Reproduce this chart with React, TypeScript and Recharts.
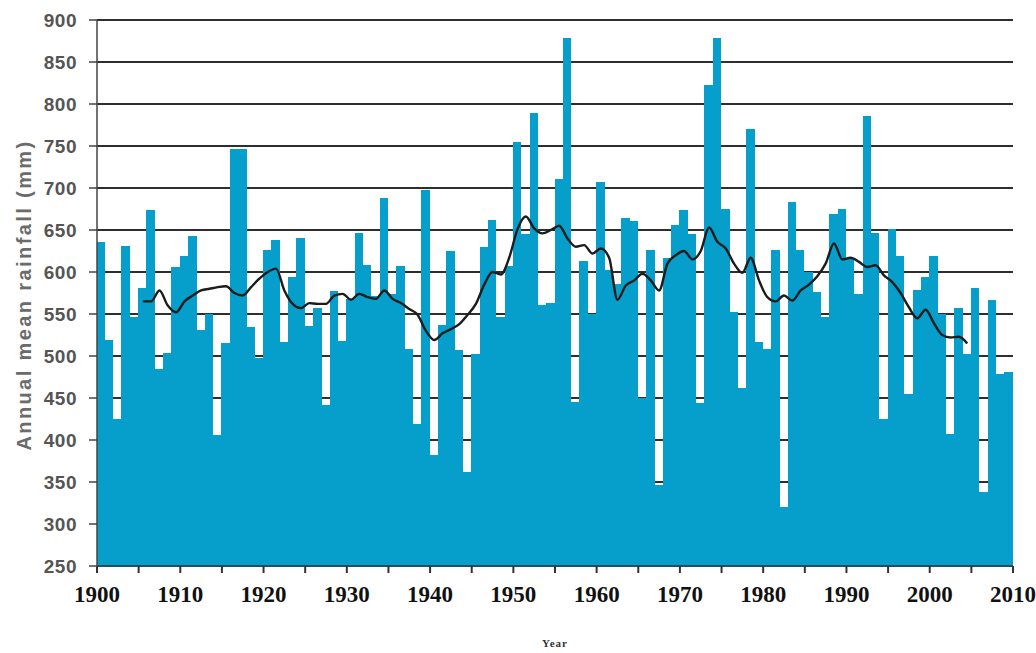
import React from "react";
import {
  Bar,
  CartesianGrid,
  ComposedChart,
  Label,
  Line,
  XAxis,
  YAxis,
} from "recharts";

// annual mean rainfall (mm), 1900..2009
const FIRST_YEAR = 1900;
const rainfall = [
  635, 518, 424, 630, 546, 580, 673, 484, 503, 605,
  618, 642, 530, 549, 405, 515, 746, 746, 534, 497,
  626, 637, 516, 594, 640, 535, 557, 441, 577, 517,
  567, 646, 608, 571, 687, 573, 606, 508, 419, 697,
  381, 536, 624, 506, 361, 502, 629, 661, 546, 607,
  754, 645, 789, 560, 562, 710, 878, 445, 612, 549,
  706, 602, 585, 664, 660, 450, 626, 346, 616, 655,
  673, 645, 443, 822, 878, 675, 552, 461, 770, 516,
  508, 626, 320, 683, 626, 599, 576, 546, 668, 675,
  615, 573, 785, 646, 424, 651, 618, 454, 578, 593,
  618, 549, 407, 556, 502, 580, 337, 566, 478, 480,
];

// smoothed trend, 1905..2004
const TREND_FIRST_YEAR = 1905;
const trend = [
  565, 565, 578, 560, 552, 565, 572, 578, 580, 582,
  583, 575, 572, 582, 592, 600, 604, 578, 562, 557,
  563, 562, 562, 572, 574, 567, 574, 570, 568, 578,
  568, 563, 556, 549, 530, 519, 527, 532, 538, 549,
  562, 585, 600, 597, 617, 651, 666, 652, 646, 650,
  655, 640, 630, 632, 622, 628, 617, 567, 584, 590,
  598, 590, 578, 610, 620, 625, 615, 625, 653, 636,
  628, 610, 599, 617, 590, 570, 565, 572, 566, 578,
  585, 595, 610, 634, 615, 617, 612, 606, 608, 596,
  588, 575, 558, 545, 555, 539, 525, 522, 523, 515,
];

const xTicks = [
  1900, 1905, 1910, 1915, 1920, 1925, 1930, 1935, 1940, 1945, 1950, 1955,
  1960, 1965, 1970, 1975, 1980, 1985, 1990, 1995, 2000, 2005, 2010,
];
const yTicks = [250, 300, 350, 400, 450, 500, 550, 600, 650, 700, 750, 800, 850, 900];

const data = rainfall.map((rain, i) => {
  const year = FIRST_YEAR + i;
  const t = trend[year - TREND_FIRST_YEAR];
  return { x: year + 0.5, year, rain, trend: t === undefined ? null : t };
});

const BAR_COLOR = "#069ecb";

const YTitle = () => (
  <text
    x={24}
    y={295}
    transform="rotate(-90 24 295)"
    textAnchor="middle"
    dominantBaseline="central"
    style={{
      fontFamily: "Arial, 'Liberation Sans', sans-serif",
      fontWeight: 700,
      fontSize: 20,
      letterSpacing: 2.4,
      fill: "#6b6b6b",
    }}
  >
    Annual mean rainfall (mm)
  </text>
);

const XTitle = () => (
  <text
    x={555}
    y={647}
    textAnchor="middle"
    style={{
      fontFamily: "'Liberation Serif', 'Times New Roman', serif",
      fontWeight: 700,
      fontSize: 11,
      letterSpacing: 1,
      fill: "#333",
    }}
  >
    Year
  </text>
);

export default function App() {
  return (
    <div style={{ position: "absolute", left: 0, top: 0, background: "#fff" }}>
      <ComposedChart
        width={1036}
        height={653}
        data={data}
        margin={{ top: 20, right: 23, left: 0, bottom: 27 }}
      >
        <CartesianGrid
          vertical={false}
          stroke="#2e2e2e"
          strokeWidth={2}
        />
        <XAxis
          dataKey="x"
          type="number"
          domain={[1900, 2010]}
          ticks={xTicks}
          interval={0}
          height={60}
          tickSize={7}
          tickMargin={13}
          axisLine={{ stroke: "#333", strokeWidth: 1.5 }}
          tickLine={{ stroke: "#333", strokeWidth: 2 }}
          tickFormatter={(v: number) => (v % 10 === 0 ? String(v) : "")}
          tick={{
            fontFamily: "'Liberation Serif', 'Times New Roman', serif",
            fontWeight: 700,
            fontSize: 23,
            fill: "#111",
          }}
        >
          <Label content={<XTitle />} />
        </XAxis>
        <YAxis
          type="number"
          domain={[250, 900]}
          ticks={yTicks}
          interval={0}
          width={97}
          tickSize={8}
          tickMargin={12}
          axisLine={{ stroke: "#444", strokeWidth: 1.5 }}
          tickLine={{ stroke: "#444", strokeWidth: 1.5 }}
          tick={{
            fontFamily: "Arial, 'Liberation Sans', sans-serif",
            fontWeight: 700,
            fontSize: 19,
            letterSpacing: 0.5,
            fill: "#555",
          }}
        >
          <Label content={<YTitle />} />
        </YAxis>
        <Bar
          dataKey="rain"
          fill={BAR_COLOR}
          stroke={BAR_COLOR}
          strokeWidth={1}
          shapeRendering="crispEdges"
          barSize={916 / 110}
          isAnimationActive={false}
        />
        <Line
          dataKey="trend"
          type="monotone"
          stroke="#1c1c1c"
          strokeWidth={2.4}
          dot={false}
          activeDot={false}
          isAnimationActive={false}
        />
      </ComposedChart>
    </div>
  );
}
